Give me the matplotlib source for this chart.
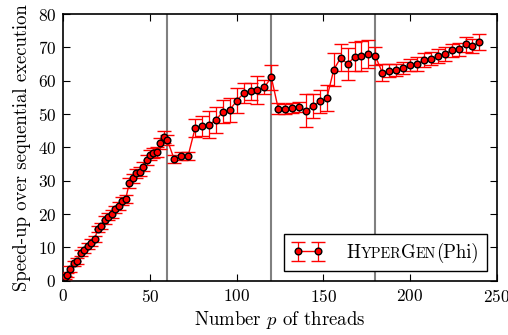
import matplotlib
matplotlib.use("Agg")
import matplotlib.pyplot as plt
from matplotlib.offsetbox import TextArea, HPacker

plt.rcParams["font.family"] = "cmr10"
plt.rcParams["mathtext.fontset"] = "cm"
plt.rcParams["axes.unicode_minus"] = False
plt.rcParams["axes.formatter.use_mathtext"] = True

# Data
threads = [1, 2, 4, 6, 8, 10, 12, 14, 16, 18, 20, 22, 24, 26, 28, 30, 32, 34, 36,
           38, 40, 42, 44, 46, 48, 50, 52, 54, 56, 58, 60,
           64, 68, 72, 76, 80, 84, 88, 92, 96, 100, 104, 108, 112, 116, 120,
           124, 128, 132, 136, 140, 144, 148, 152, 156, 160, 164, 168, 172, 176, 180,
           184, 188, 192, 196, 200, 204, 208, 212, 216, 220, 224, 228, 232, 236, 240]
speedup = [1.0, 1.6, 3.5, 5.2, 5.8, 8.2, 9.2, 10.4, 11.4, 12.5, 15.5, 16.4, 18.2,
           19.2, 20.0, 21.4, 22.4, 23.8, 24.5, 29.2, 30.7, 32.2, 32.7, 34.2, 36.2,
           37.8, 38.2, 38.6, 41.2, 43.0, 42.2,
           36.4, 37.4, 37.5, 45.7, 46.3, 46.8, 48.2, 50.7, 51.2, 54.0, 56.2, 56.8,
           57.2, 58.1, 61.0,
           51.6, 51.6, 51.9, 52.2, 51.0, 52.4, 53.8, 54.8, 63.3, 66.9, 65.0, 67.2,
           67.5, 68.0, 67.4,
           62.4, 63.0, 63.1, 63.9, 64.6, 65.0, 66.2, 66.6, 67.4, 68.0, 69.1, 69.4,
           70.9, 70.4, 71.6]
errors = [0.5, 0.6, 0.8, 0.8, 0.9, 0.9, 1.0, 1.0, 1.0, 1.0, 1.0, 1.0, 1.1, 1.1,
          1.1, 1.1, 1.2, 1.2, 1.2, 1.5, 1.3, 1.3, 1.4, 1.4, 1.4, 1.5, 1.5, 1.5,
          1.6, 1.8, 1.6,
          1.2, 1.2, 1.2, 2.7, 3.0, 4.0, 4.0, 3.5, 3.5, 3.7, 3.0, 2.5, 4.2, 2.2, 3.8,
          1.7, 1.5, 1.5, 1.5, 5.0, 3.7, 3.5, 4.0, 5.0, 4.0, 4.7, 4.3, 4.5, 4.2, 2.6,
          2.6, 2.0, 1.8, 1.8, 1.8, 2.0, 2.0, 2.0, 2.0, 2.0, 2.0, 2.0, 2.2, 2.2, 2.4]
numa_bounds = [60, 120, 180]

fig = plt.figure(figsize=(5.08, 3.35), dpi=100)
ax = fig.add_axes([0.1246, 0.162, 0.8532, 0.796])

for xb in numa_bounds:
    ax.axvline(xb, color="#808080", linewidth=1.5, zorder=1)

ax.errorbar(threads, speedup, yerr=errors, color="red", marker="o",
            markersize=4.8, markerfacecolor="red", markeredgecolor="black",
            markeredgewidth=1, linewidth=1, elinewidth=0.9, capsize=5,
            label="HyperGen(Phi)", zorder=3)

ax.set_xlim(0, 250)
ax.set_ylim(0, 80)
ax.set_xticks(range(0, 251, 50))
ax.set_yticks(range(0, 81, 10))
ax.tick_params(direction="in", top=True, right=True, length=5, labelsize=12.5, pad=5)
for s in ax.spines.values():
    s.set_linewidth(1.2)
ax.set_xlabel("Number $p$ of threads", fontsize=13.5, labelpad=3)
ax.set_ylabel("Speed-up over sequential execution", fontsize=13.5, labelpad=5)

leg = ax.legend(loc="lower right", numpoints=2, handlelength=1.7, fontsize=13.5,
                fancybox=False, framealpha=1, edgecolor="black",
                borderpad=0.45, handletextpad=1.2)
leg.get_frame().set_linewidth(1.0)
leg.set_zorder(5)

# small caps label built from pieces
pieces = [("H", 13.5), ("YPER", 10.3), ("G", 13.5), ("EN", 10.3), ("(Phi)", 13.5)]
parts = [TextArea(t, textprops=dict(fontsize=sz, family="cmr10")) for t, sz in pieces]
label_box = HPacker(children=parts, pad=0, sep=0, align="baseline")
item = leg._legend_handle_box.get_children()[0].get_children()[0]
item.get_children()[1] = label_box
label_box.set_figure(fig)

fig.savefig("out.png", dpi=100)
